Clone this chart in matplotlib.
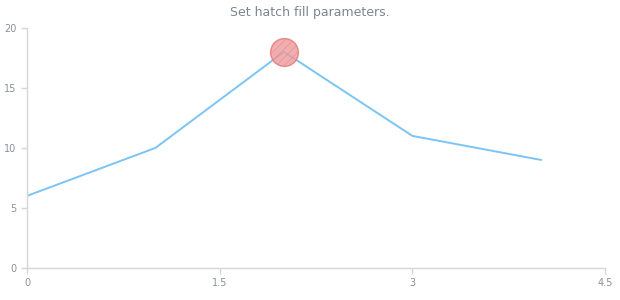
import matplotlib.pyplot as plt

x_values = [0, 1, 2, 3, 4]
y_values = [6, 10, 18, 11, 9]
marker_index = 2
x_ticks = [0, 1.5, 3, 4.5]
x_tick_labels = ['0', '1.5', '3', '4.5']
y_ticks = [0, 5, 10, 15, 20]

plt.rcParams['hatch.linewidth'] = 0.5

fig = plt.figure(figsize=(6.2, 3), dpi=100)
ax = fig.add_axes([0.0435, 0.107, 0.9325, 0.8])

ax.plot(x_values, y_values, color='#7cc4f4', linewidth=1.4, zorder=2)

# hatched marker on the peak
mx, my = x_values[marker_index], y_values[marker_index]
ax.scatter([mx], [my], s=400, facecolor='#ef9a9a', edgecolor='#e57373',
           linewidth=1, alpha=0.8, zorder=3)
ax.scatter([mx], [my], s=400, facecolor='none', edgecolor='#d98585',
           hatch='////', linewidth=0, alpha=0.6, zorder=4)

ax.set_xlim(0, 4.5)
ax.set_ylim(0, 20)
ax.set_xticks(x_ticks)
ax.set_xticklabels(x_tick_labels)
ax.set_yticks(y_ticks)

for side in ['top', 'right']:
    ax.spines[side].set_visible(False)
for side in ['left', 'bottom']:
    ax.spines[side].set_color('#d6d6d6')
    ax.spines[side].set_linewidth(1)
ax.tick_params(colors='#d6d6d6', labelcolor='#8a9198', labelsize=7, length=4, width=1)
ax.tick_params(axis='x', pad=3)

fig.suptitle('Set hatch fill parameters.', y=0.98, fontsize=9, color='#7c868e')

fig.savefig('out.png', dpi=100)
